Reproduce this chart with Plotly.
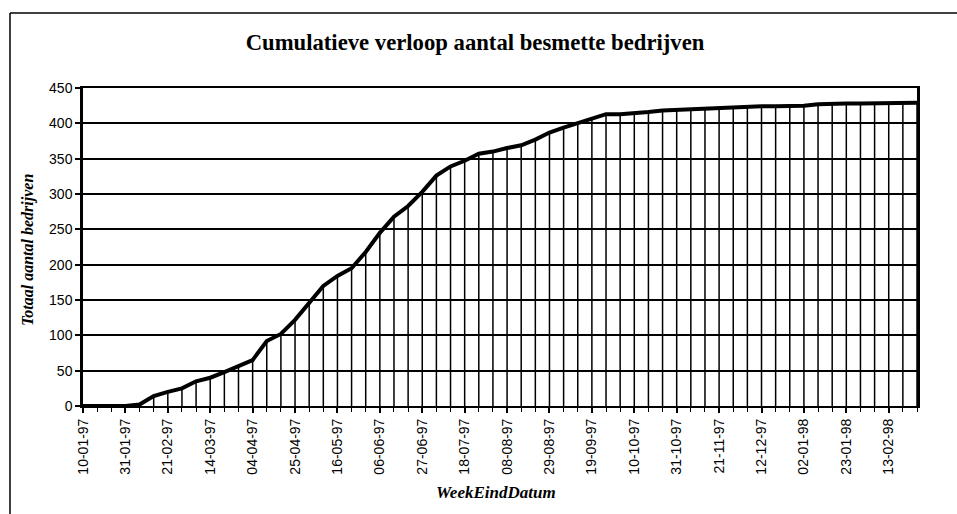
import plotly.graph_objects as go

weeks = [
    "10-01-97", "17-01-97", "24-01-97", "31-01-97", "07-02-97", "14-02-97", "21-02-97", "28-02-97",
    "07-03-97", "14-03-97", "21-03-97", "28-03-97", "04-04-97", "11-04-97", "18-04-97", "25-04-97",
    "02-05-97", "09-05-97", "16-05-97", "23-05-97", "30-05-97", "06-06-97", "13-06-97", "20-06-97",
    "27-06-97", "04-07-97", "11-07-97", "18-07-97", "25-07-97", "01-08-97", "08-08-97", "15-08-97",
    "22-08-97", "29-08-97", "05-09-97", "12-09-97", "19-09-97", "26-09-97", "03-10-97", "10-10-97",
    "17-10-97", "24-10-97", "31-10-97", "07-11-97", "14-11-97", "21-11-97", "28-11-97", "05-12-97",
    "12-12-97", "19-12-97", "26-12-97", "02-01-98", "09-01-98", "16-01-98", "23-01-98", "30-01-98",
    "06-02-98", "13-02-98", "20-02-98", "27-02-98",
]

totaal = [
    0, 0, 0, 0, 2, 14, 20, 25, 35, 40, 48, 57, 65, 92, 102, 122,
    145, 170, 184, 195, 218, 245, 268, 283, 303, 326, 339, 347, 357, 360, 365, 369,
    377, 387, 394, 400, 407, 413, 413, 414, 416, 418, 419, 420, 421, 422, 422, 423,
    424, 424, 424, 425, 427, 428, 428, 428, 428, 429, 429, 429,
]

y_ticks = [0, 50, 100, 150, 200, 250, 300, 350, 400, 450]

title_text = "Cumulatieve verloop aantal besmette bedrijven"
x_title = "WeekEindDatum"
y_title = "Totaal aantal bedrijven"

idx = list(range(len(weeks)))

# drop lines from each point down to the category axis
drop_x, drop_y = [], []
for i, v in zip(idx, totaal):
    drop_x += [i, i, None]
    drop_y += [0, v, None]

fig = go.Figure()
fig.add_trace(go.Scatter(x=drop_x, y=drop_y, mode="lines",
                         line=dict(color="black", width=1.5),
                         hoverinfo="skip", showlegend=False))
fig.add_trace(go.Scatter(x=idx, y=totaal, mode="lines",
                         line=dict(color="black", width=4),
                         text=weeks, showlegend=False))

W, H = 957, 514
L, R, T, B = 83, 40, 88, 108
pw, ph = W - L - R, H - T - B

def px_x(p):
    return (p - L) / pw

def px_y(p):
    return (H - B - p) / ph

fig.update_layout(
    width=W, height=H,
    margin=dict(l=L, r=R, t=T, b=B),
    paper_bgcolor="white", plot_bgcolor="white",
    showlegend=False,
    title=dict(text="<b>" + title_text + "</b>", xref="container", x=475 / W, xanchor="center",
               yref="container", y=1 - 42 / H, yanchor="middle",
               font=dict(family="Liberation Serif", size=22.7, color="black")),
    xaxis=dict(
        range=[0, len(weeks) - 1],
        tickmode="array", tickvals=idx[::3], ticktext=weeks[::3],
        tickangle=-90, ticks="outside", ticklen=5, tickwidth=1.5, tickcolor="black",
        tickfont=dict(family="Arial, Liberation Sans", size=14, color="black"),
        minor=dict(tickvals=idx, ticks="outside", ticklen=4, tickwidth=1.2, tickcolor="black"),
        showgrid=False, zeroline=False,
        showline=True, linecolor="black", linewidth=2, mirror=True,
        title=None,
    ),
    yaxis=dict(
        range=[0, 450],
        tickmode="array", tickvals=y_ticks,
        ticks="outside", ticklen=5, tickwidth=1.5, tickcolor="black",
        tickfont=dict(family="Arial, Liberation Sans", size=14, color="black"),
        showgrid=True, gridcolor="black", gridwidth=1.5,
        zeroline=False,
        showline=True, linecolor="black", linewidth=2.5, mirror=True,
        title=None,
    ),
    annotations=[
        dict(text="<b><i>" + x_title + "</i></b>", xref="paper", yref="paper",
             x=px_x(496), y=px_y(492), xanchor="center", yanchor="middle", showarrow=False,
             font=dict(family="Liberation Serif", size=17, color="black")),
        dict(text="<b><i>" + y_title + "</i></b>", xref="paper", yref="paper",
             x=px_x(28), y=px_y(250), xanchor="center", yanchor="middle", showarrow=False,
             textangle=-90,
             font=dict(family="Liberation Serif", size=16, color="black")),
    ],
    shapes=[
        dict(type="line", xref="paper", yref="paper",
             x0=px_x(10), x1=px_x(960), y0=px_y(13), y1=px_y(13),
             line=dict(color="black", width=1.5)),
        dict(type="line", xref="paper", yref="paper",
             x0=px_x(10), x1=px_x(10), y0=px_y(13), y1=px_y(516),
             line=dict(color="black", width=1.5)),
    ],
)

fig.write_html("out.html", config={"displayModeBar": False},
               post_script="document.body.style.margin='0';document.body.style.overflow='hidden';")
